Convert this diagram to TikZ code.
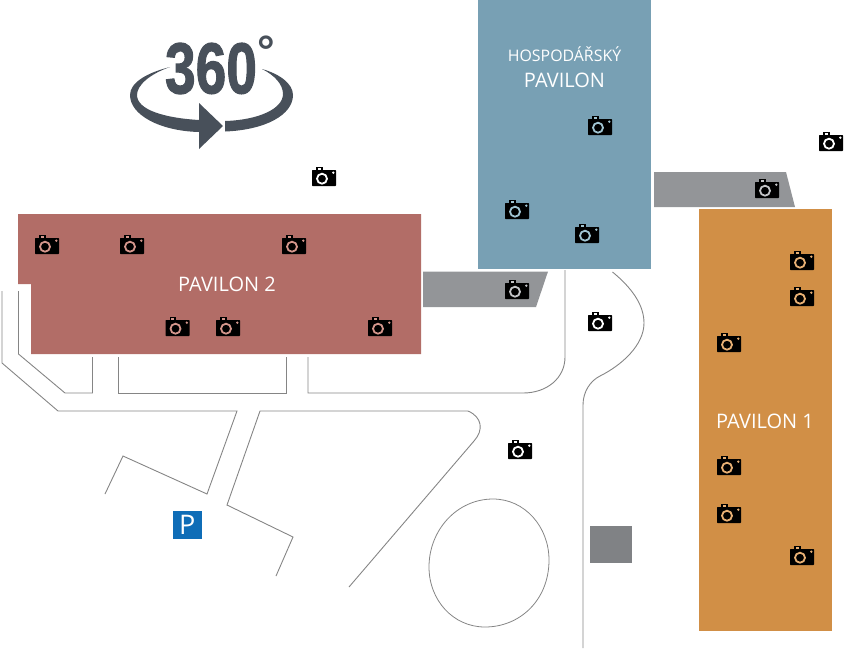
\documentclass[tikz,border=0pt]{standalone}
\usepackage{fontspec}
\setmainfont{Open Sans}
\newfontfamily\logofont{Liberation Sans}
\definecolor{redb}{HTML}{B26D67}
\definecolor{blueb}{HTML}{78A0B4}
\definecolor{orangeb}{HTML}{D18F46}
\definecolor{grayb}{HTML}{939598}
\definecolor{squareb}{HTML}{808285}
\definecolor{parkb}{HTML}{0F6DB7}
\definecolor{logoc}{HTML}{48505A}
\definecolor{roadc}{HTML}{858585}
\definecolor{lensred}{HTML}{D4968C}
\definecolor{lensblue}{HTML}{A0C4D2}
\definecolor{lensorange}{HTML}{E8B074}
\definecolor{lensgray}{HTML}{C4C5C7}
\tikzset{
  road/.style={draw=roadc,line width=0.9pt,line join=miter},
  hall/.style={font=\fontsize{20}{24}\selectfont,text=white,inner sep=0pt},
  pics/camera/.style={code={
    \fill[black,rounded corners=0.6pt] (-12,-8) rectangle (12,8);
    \fill[black] (-8,-11) rectangle (-1.3,-7.5);
    \fill[#1] (-6.2,-9.6) rectangle (-3.1,-8.2);
    \draw[line width=1.8pt,draw=#1] (-2,0.7) circle (5);
    \fill[#1] (9.3,-5.3) circle (1.3);
  }}
}
\begin{document}
\begin{tikzpicture}[x=1pt,y=-1pt]
\useasboundingbox (0,0) rectangle (848,649);
% buildings
\fill[redb] (18,214) -- (421,214) -- (421,354) -- (31,354) -- (31,284) -- (18,284) -- cycle;
\fill[blueb] (478,0) rectangle (651,269);
\fill[orangeb] (699,209) rectangle (832,631);
\fill[grayb] (423,271.5) -- (548,271.5) -- (536,307) -- (423,307) -- cycle;
\fill[grayb] (654,172) -- (786,172) -- (795,207) -- (654,207) -- cycle;
\fill[squareb] (590,526) rectangle (632,563);
% roads
\draw[road] (2,291) -- (2,363) -- (58,411) -- (237,411) -- (207,494) -- (123,456) -- (105,494);
\draw[road] (18.5,291) -- (18.5,354) -- (65,393) -- (92.5,393) -- (92.5,357);
\draw[road] (118,357) -- (118,393) -- (286.5,393) -- (286.5,357);
\draw[road] (308,357) -- (308,393) -- (523,393) .. controls (547,393) and (565,378) .. (565,357) -- (565,270);
\draw[road] (612.5,272) .. controls (632,288) and (644,305) .. (644,323) .. controls (644,345) and (622,365) .. (600,376) .. controls (590,381) and (583,392) .. (583,405) -- (583,648);
\draw[road] (349,587) -- (474,441) .. controls (484,430) and (482,417) .. (468,411) -- (260,411) -- (227,505) -- (293,537) -- (276,576);
\draw[road,line width=0.8pt] (493,499) .. controls (525,499) and (549,527) .. (549,560) .. controls (549,600) and (520,627) .. (485,627) .. controls (453,627) and (429,600) .. (429,567) .. controls (429,530) and (457,499) .. (493,499) -- cycle;
% parking
\node[name=park,fill=parkb,text=white,minimum width=28.5pt,minimum height=28pt,inner sep=0pt,font=\fontsize{27}{27}\selectfont] at (187.3,525) {P};
% labels
\node[hall] (lab2) at (227,284) {PAVILON 2};
\node[hall] (lab1) at (765,421.5) {PAVILON 1};
\node[hall,font=\fontsize{15.9}{16}\selectfont] (labh) at (564.5,54.5) {HOSPODÁŘSKÝ};
\node[hall] (labp) at (564.5,80.5) {PAVILON};
% 360 logo
\node[text=logoc,draw=none,inner sep=0pt,xscale=0.765,font=\logofont\bfseries\fontsize{72}{72}\selectfont] (logo) at (211,68.5) {\special{pdf:literal direct 2 Tr 1.2 w}360\special{pdf:literal direct 0 Tr}};
\node[text=logoc,inner sep=0pt,font=\logofont\fontsize{44}{44}\selectfont\bfseries] (deg) at (266,51) {°};
\fill[logoc] (170,67) .. controls (146,73) and (130,83) .. (130,95) .. controls (130,115) and (160,131) .. (199,132) -- (199,149) -- (223,126) -- (199,103) -- (199,120) .. controls (165,118) and (137,110) .. (137,95) .. controls (137,85) and (150,74) .. (170,67) -- cycle;
\fill[logoc] (225,121) .. controls (258,120) and (283,109) .. (283,94) .. controls (283,84) and (274,75) .. (262,69) .. controls (280,74) and (293,84) .. (293,95) .. controls (293,115) and (265,130) .. (225,131.5) -- cycle;
% cameras
\foreach \p in {(47,246),(132,246),(294,246),(177.5,328),(228,328),(380,328)} \pic at \p {camera=lensred};
\foreach \p in {(600,127),(517,211),(587,235)} \pic at \p {camera=lensblue};
\foreach \p in {(802,262),(802,298),(729,344),(729,467),(729,515),(802,557)} \pic at \p {camera=lensorange};
\foreach \p in {(517,291),(767,190)} \pic at \p {camera=lensgray};
\foreach \p in {(324,178),(831,143),(600,323),(520,451)} \pic at \p {camera=white};
\end{tikzpicture}
\end{document}
